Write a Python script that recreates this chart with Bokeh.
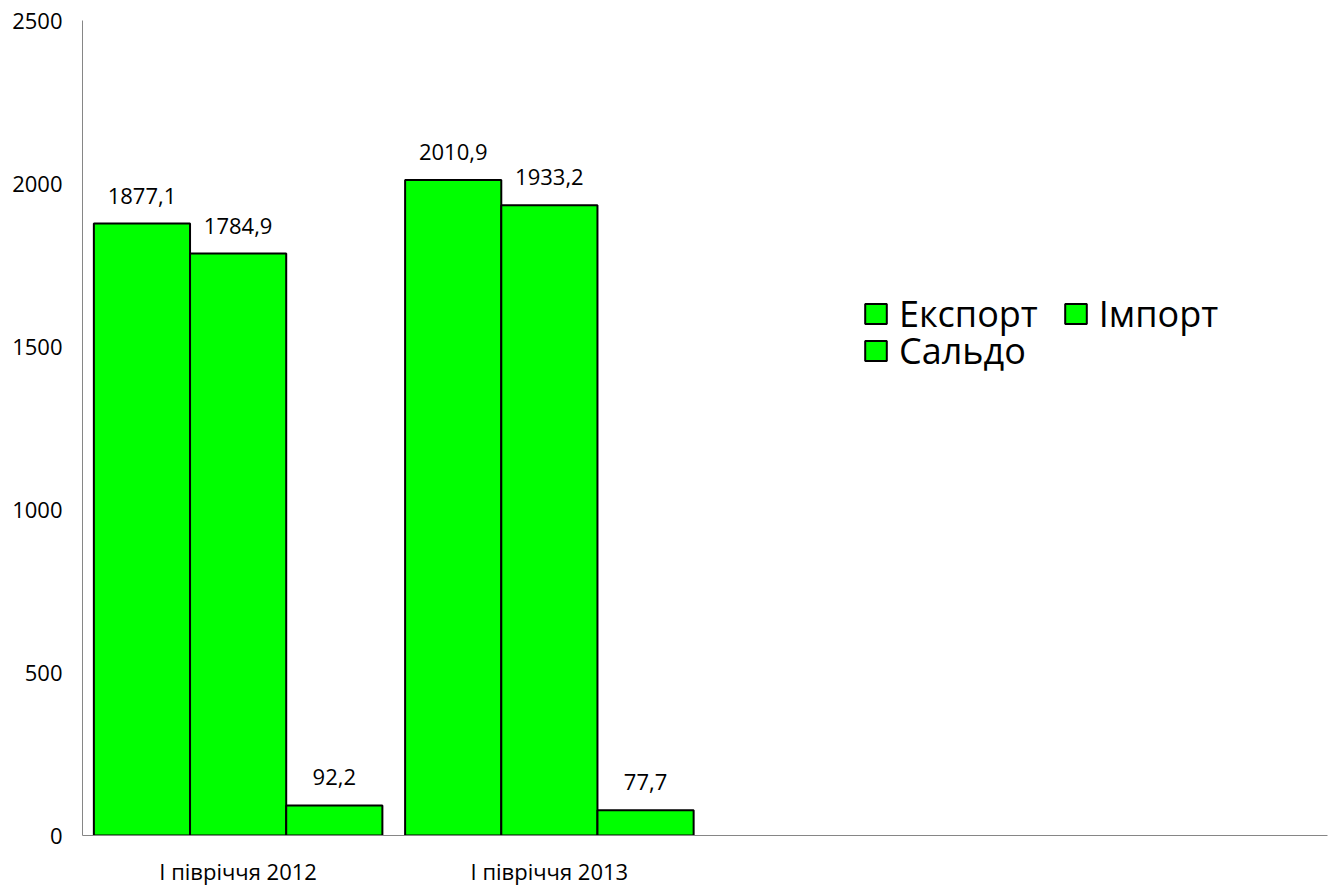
from bokeh.plotting import figure
from bokeh.models import (ColumnDataSource, FixedTicker, Range1d, Legend,
                          LegendItem, LabelSet)
from bokeh.transform import dodge
from bokeh.embed import file_html
from bokeh.resources import INLINE
from bokeh.core.properties import value

categories = ["I півріччя 2012", "I півріччя 2013"]
series_names = ["Експорт", "Імпорт", "Сальдо"]
export_vals = [1877.1, 2010.9]
import_vals = [1784.9, 1933.2]
saldo_vals = [92.2, 77.7]
y_ticks = [0, 500, 1000, 1500, 2000, 2500]
n_slots = 4

FONT = "Open Sans"
GREEN = "#00FF00"


def fmt(v):
    return f"{v:.1f}".replace(".", ",")


x_pos = [i + 0.5 for i in range(len(categories))]
src = ColumnDataSource(dict(
    x=x_pos,
    exp=export_vals, imp=import_vals, sal=saldo_vals,
    exp_l=[fmt(v) for v in export_vals],
    imp_l=[fmt(v) for v in import_vals],
    sal_l=[fmt(v) for v in saldo_vals],
))

p = figure(width=1330, height=888, x_range=Range1d(0, n_slots),
           y_range=Range1d(0, 2500), output_backend="svg",
           toolbar_location=None, title=None,
           min_border_left=82, min_border_right=3,
           min_border_top=20, min_border_bottom=53)
p.outline_line_color = None
p.xgrid.grid_line_color = None
p.ygrid.grid_line_color = None
p.background_fill_color = "white"
p.border_fill_color = "white"

bw = 0.309
renderers = []
for key, off in (("exp", -bw), ("imp", 0.0), ("sal", bw)):
    r = p.vbar(x=dodge("x", off, range=p.x_range), top=key, width=bw,
               source=src, fill_color=GREEN, line_color="black",
               line_width=2)
    renderers.append(r)
    lbl = LabelSet(x=dodge("x", off, range=p.x_range), y=key,
                   text=key + "_l", source=src, text_align="center",
                   text_baseline="alphabetic", y_offset=20,
                   text_font=value(FONT), text_font_size=value("22px"),
                   text_color="black")
    p.add_layout(lbl)

# axes
p.yaxis.ticker = FixedTicker(ticks=y_ticks)
p.yaxis.major_tick_line_color = None
p.yaxis.major_tick_out = 0
p.yaxis.major_tick_in = 0
p.yaxis.minor_tick_line_color = None
p.yaxis.minor_tick_out = 0
p.yaxis.axis_line_color = "#868686"
p.yaxis.axis_line_width = 1
p.yaxis.major_label_standoff = 20
p.yaxis.major_label_text_font = FONT
p.yaxis.major_label_text_font_size = "22px"
p.yaxis.major_label_text_color = "black"

p.xaxis.ticker = FixedTicker(ticks=x_pos)
p.xaxis.major_label_overrides = {x: c for x, c in zip(x_pos, categories)}
p.xaxis.major_tick_line_color = None
p.xaxis.major_tick_out = 0
p.xaxis.major_tick_in = 0
p.xaxis.minor_tick_line_color = None
p.xaxis.minor_tick_out = 0
p.xaxis.axis_line_color = "#868686"
p.xaxis.axis_line_width = 1
p.xaxis.major_label_standoff = 20
p.xaxis.major_label_text_font = FONT
p.xaxis.major_label_text_font_size = "22px"
p.xaxis.major_label_text_color = "black"

common = dict(label_text_font=FONT, label_text_font_size="36px",
              label_text_color="black", glyph_width=27, glyph_height=25,
              label_standoff=10, padding=0, margin=0, spacing=24,
              label_height=30,
              border_line_color=None, background_fill_alpha=0)
leg1 = Legend(items=[LegendItem(label=series_names[0], renderers=[renderers[0]]),
                     LegendItem(label=series_names[1], renderers=[renderers[1]])],
              orientation="horizontal", location=(780, 497), **common)
leg2 = Legend(items=[LegendItem(label=series_names[2], renderers=[renderers[2]])],
              orientation="horizontal", location=(780, 460), **common)
p.add_layout(leg1, "center")
p.add_layout(leg2, "center")

open("out.html", "w").write(file_html(p, INLINE))
